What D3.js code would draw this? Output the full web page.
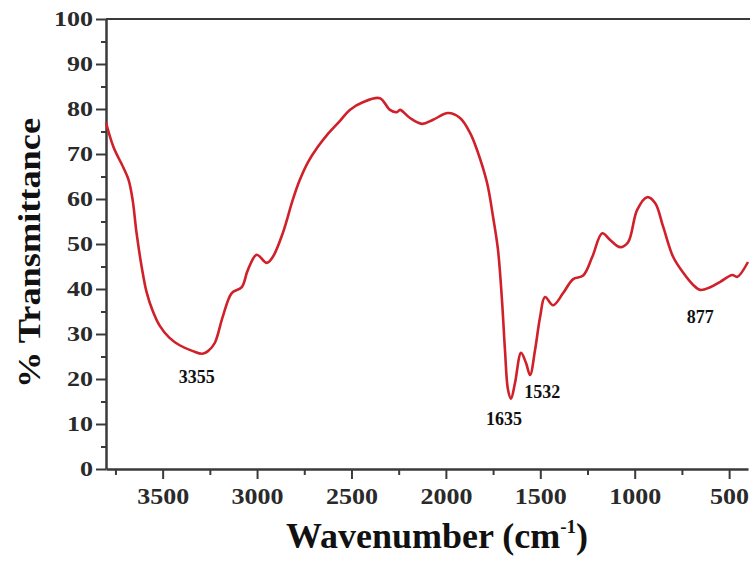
<!DOCTYPE html>
<html>
<head>
<meta charset="utf-8">
<script src="https://cdn.jsdelivr.net/npm/d3@7"></script>
<style>
  body { margin: 0; background: #fff; }
  text { font-family: "Liberation Serif", "Times New Roman", serif; font-weight: bold; }
</style>
</head>
<body>
<div id="chart"></div>
<script>
// FTIR spectrum, values
var wavenumbers = [3800, 3760, 3707, 3680, 3659, 3638, 3611, 3585, 3555, 3515, 3465, 3410, 3340, 3290, 3260, 3224,
    3182, 3134, 3081, 3049, 3002, 2949, 2917, 2864, 2811, 2774, 2730, 2680, 2630, 2562, 2509, 2440,
    2350, 2296, 2259, 2243, 2190, 2127, 2068, 1989, 1925, 1872, 1835, 1782, 1750, 1724, 1703, 1687,
    1671, 1655, 1634, 1602, 1576, 1554, 1528, 1501, 1475, 1432, 1379, 1326, 1273, 1225, 1172, 1130,
    1077, 1035, 987, 934, 892, 849, 796, 743, 690, 653, 600, 547, 483, 457, 400];
var transmittance = [77, 71.5, 66.9, 64.2, 59.8, 52.4, 44.9, 39.3, 35.4, 31.8, 29.2, 27.5, 26.2, 25.6, 26.2, 28,
    33.8, 39.1, 40.4, 44.2, 47.6, 45.8, 47.1, 52.4, 59.8, 64.2, 68.2, 71.5, 74.2, 77.3, 79.8, 81.5,
    82.4, 79.8, 79.3, 79.8, 78, 76.7, 77.6, 79.1, 78, 74.7, 70.9, 63.6, 56, 48.7, 37.6, 26.4,
    17.6, 15.6, 19.1, 25.8, 23.6, 20.9, 26.4, 33.8, 38.2, 36.4, 39.1, 42.2, 43, 47.1, 52.4, 50.9,
    49.3, 50.4, 57.6, 60.4, 59.1, 53.8, 47.1, 43.6, 40.9, 39.8, 40.4, 41.6, 43.1, 42.7, 46];

var xTicks = [3500, 3000, 2500, 2000, 1500, 1000, 500];
var xMinorTicks = [3750, 3250, 2750, 2250, 1750, 1250, 750];
var yTicks = [0, 10, 20, 30, 40, 50, 60, 70, 80, 90, 100];
var yMinorTicks = [5, 15, 25, 35, 45, 55, 65, 75, 85, 95];

// peak labels: text, anchor wavenumber, anchor % (baseline)
var peakLabels = ['3355', '1635', '1532', '877'];
var peakX = [3320, 1692, 1490, 653];
var peakY = [19.1, 9.8, 15.8, 32.4];

var sizes = {width: 750, height: 561};
var svg = d3.select('#chart')
            .append('svg')
            .attr('width', sizes.width)
            .attr('height', sizes.height);

var x = d3.scaleLinear().domain([3800, 400]).range([106, 748]);
var y = d3.scaleLinear().domain([0, 100]).range([469, 19]);

var axisColor = '#3a3a3a';

// top frame line
svg.append('line')
    .attr('x1', x(3800)).attr('x2', sizes.width)
    .attr('y1', y(100)).attr('y2', y(100))
    .attr('stroke', axisColor).attr('stroke-width', 2);

// minor ticks first, then major axes on top
svg.append('g')
    .attr('transform', 'translate(0,' + y(0) + ')')
    .call(d3.axisBottom(x).tickValues(xMinorTicks).tickSize(6).tickFormat(''))
    .call(function(g){ g.select('.domain').remove(); });

svg.append('g')
    .attr('transform', 'translate(' + x(3800) + ',0)')
    .call(d3.axisLeft(y).tickValues(yMinorTicks).tickSize(5).tickFormat(''))
    .call(function(g){ g.select('.domain').remove(); });

var xAxis = svg.append('g')
    .attr('transform', 'translate(0,' + y(0) + ')')
    .call(d3.axisBottom(x).tickValues(xTicks).tickSize(10).tickSizeOuter(0).tickPadding(9).tickFormat(d3.format('d')));

var yAxis = svg.append('g')
    .attr('transform', 'translate(' + x(3800) + ',0)')
    .call(d3.axisLeft(y).tickValues(yTicks).tickSize(10).tickSizeOuter(0).tickPadding(3).tickFormat(d3.format('d')));

svg.selectAll('.tick line').attr('stroke', axisColor).attr('stroke-width', 2);
svg.selectAll('.domain').attr('stroke', axisColor).attr('stroke-width', 2.5);

xAxis.selectAll('text')
    .style('font-size', '23px')
    .attr('fill', '#2a2a2a')
    .attr('dy', '0.71em')
    .attr('textLength', function(d){ return String(d).length * 13; })
    .attr('lengthAdjust', 'spacingAndGlyphs');

yAxis.selectAll('text')
    .style('font-size', '21px')
    .attr('fill', '#2a2a2a')
    .attr('textLength', function(d){ return String(d).length * 13; })
    .attr('lengthAdjust', 'spacingAndGlyphs');

// spectrum
var line = d3.line()
    .x(function(d, i){ return x(wavenumbers[i]); })
    .y(function(d){ return y(d); })
    .curve(d3.curveCatmullRom.alpha(0.5));

svg.append('path')
    .datum(transmittance)
    .attr('d', line)
    .attr('fill', 'none')
    .attr('stroke', '#d0202a')
    .attr('stroke-width', 2.6)
    .attr('stroke-linejoin', 'round');

// peak labels
svg.selectAll('text.peak')
    .data(peakLabels)
    .enter()
    .append('text')
    .attr('class', 'peak')
    .attr('x', function(d, i){ return x(peakX[i]); })
    .attr('y', function(d, i){ return y(peakY[i]); })
    .attr('text-anchor', 'middle')
    .style('font-size', '18px')
    .attr('fill', '#111')
    .text(function(d){ return d; });

// axis titles
var xTitle = svg.append('text')
    .attr('x', 437)
    .attr('y', 548)
    .attr('text-anchor', 'middle')
    .style('font-size', '36px')
    .attr('fill', '#111');
xTitle.append('tspan').text('Wavenumber (cm');
xTitle.append('tspan').attr('dy', -15).style('font-size', '19px').text('-1');
xTitle.append('tspan').attr('dy', 15).text(')');

svg.append('text')
    .attr('transform', 'translate(40,253) rotate(-90)')
    .attr('text-anchor', 'middle')
    .style('font-size', '32px')
    .attr('fill', '#111')
    .attr('textLength', 270)
    .attr('lengthAdjust', 'spacingAndGlyphs')
    .text('% Transmittance');
</script>
</body>
</html>
